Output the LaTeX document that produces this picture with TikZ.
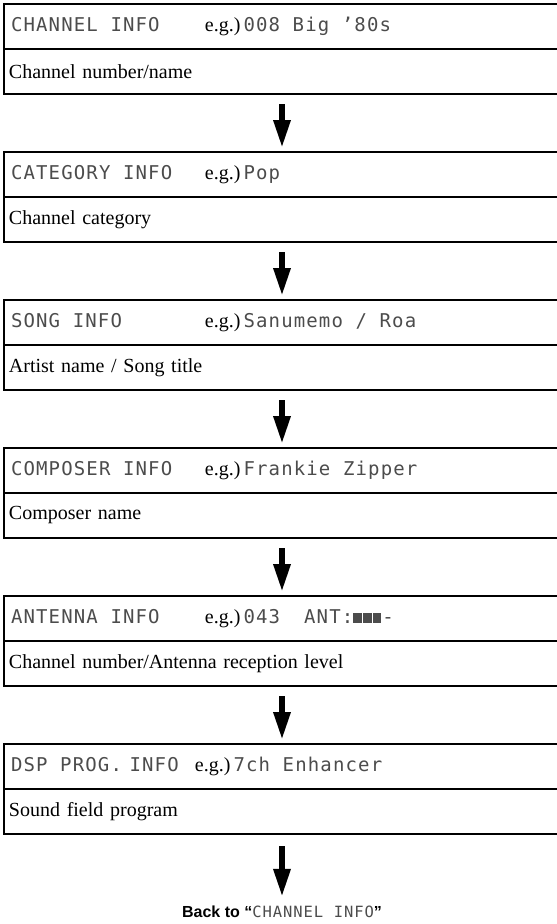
\documentclass[tikz,border=0pt]{standalone}
\usepackage{fontspec}
\setmainfont{Liberation Serif}
\newfontfamily\lcd[LetterSpace=6]{DejaVu Sans Mono}
\newfontfamily\hel{Liberation Sans}
\usetikzlibrary{arrows.meta}
\newcommand{\lcdt}[1]{{\lcd\fontsize{19}{22}\selectfont\spaceskip=12.6pt\relax\color{black!70}#1}}
\newcommand{\row}[3]{\makebox[#1][l]{\hspace{2pt}\lcdt{#2}}e.g.)\hspace{3pt}\lcdt{#3}}
\newcommand{\antbar}{\rule[0pt]{8.5pt}{10.5pt}\hspace{1.2pt}}
\begin{document}
\begin{tikzpicture}[x=1pt,y=1pt,
  cell/.style={draw, line width=1.8pt, outer sep=0pt, minimum width=556pt, minimum height=45pt,
    text width=546pt, inner xsep=5pt, inner ysep=0pt, align=left,
    font=\fontsize{20}{22}\selectfont},
  topcell/.style={cell, anchor=north west},
  botcell/.style={cell, anchor=north},
  arr/.style={line width=6pt, -{Triangle[width=16pt,length=28pt]}}]
\useasboundingbox (0,0) rectangle (557,-924);
\clip (0,0) rectangle (557,-924);
% box 1
\node[topcell] (t1) at (4,-4) {\row{196pt}{CHANNEL INFO}{008 Big ’80s}};
\node[botcell] (b1) at (t1.south) {Channel number/name};
% box 2
\node[topcell] (t2) at (4,-152) {\row{196pt}{CATEGORY INFO}{Pop}};
\node[botcell] (b2) at (t2.south) {Channel category};
% box 3
\node[topcell] (t3) at (4,-300) {\row{196pt}{SONG INFO}{Sanumemo / Roa}};
\node[botcell] (b3) at (t3.south) {Artist name / Song title};
% box 4
\node[topcell] (t4) at (4,-448) {\row{196pt}{COMPOSER INFO}{Frankie Zipper}};
\node[botcell] (b4) at (t4.south) {Composer name};
% box 5
\node[topcell] (t5) at (4,-596) {\row{196pt}{ANTENNA INFO}{043\hspace{24pt}ANT:\antbar\antbar\antbar-}};
\node[botcell] (b5) at (t5.south) {Channel number/Antenna reception level};
% box 6
\node[topcell] (t6) at (4,-744) {\row{186pt}{DSP PROG.\hspace{-5pt} INFO}{7ch Enhancer}};
\node[botcell] (b6) at (t6.south) {Sound field program};
% back
\node[font=\hel\bfseries\fontsize{16}{19}\selectfont, inner sep=0pt] (back) at (282,-912)
  {Back to “{\lcd\mdseries\color{black!70}\fontsize{15.5}{19}\selectfont\spaceskip=10.5pt\relax CHANNEL INFO}”};
% arrows
\draw[arr] ([yshift=-10pt]b1.south) -- ([yshift=4pt]t2.north);
\draw[arr] ([yshift=-10pt]b2.south) -- ([yshift=4pt]t3.north);
\draw[arr] ([yshift=-10pt]b3.south) -- ([yshift=4pt]t4.north);
\draw[arr] ([yshift=-10pt]b4.south) -- ([yshift=4pt]t5.north);
\draw[arr] ([yshift=-10pt]b5.south) -- ([yshift=4pt]t6.north);
\draw[arr] ([yshift=-12pt]b6.south) -- ([yshift=9pt]back.north);
\end{tikzpicture}
\end{document}
